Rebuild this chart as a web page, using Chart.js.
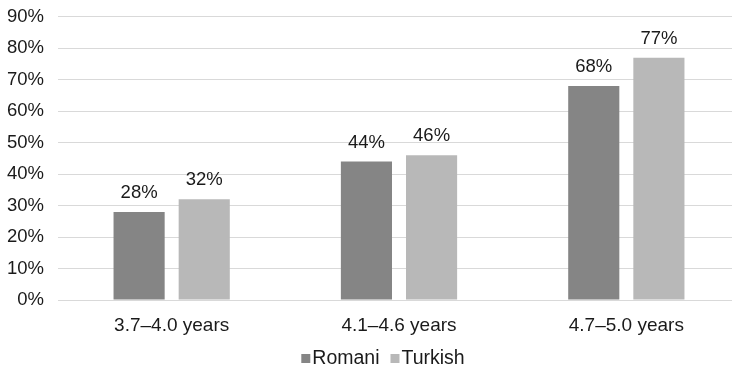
<!DOCTYPE html>
<html>
<head>
<meta charset="utf-8">
<script src="https://cdn.jsdelivr.net/npm/chart.js@4/dist/chart.umd.min.js"></script>
<style>
  html, body { margin: 0; padding: 0; background: #fff; overflow: hidden; }
  #wrap { width: 740px; height: 366px; }
</style>
</head>
<body>
<div id="wrap"><canvas id="c" width="740" height="366"></canvas></div>
<script>
const categories = ['3.7–4.0 years', '4.1–4.6 years', '4.7–5.0 years'];
const romani = [28, 44, 68];
const turkish = [32, 46, 77];
const yTicks = [0, 10, 20, 30, 40, 50, 60, 70, 80, 90];

const FONT = "'Liberation Sans', Arial, sans-serif";
const SIZE = 18.5;
const TEXT = '#1a1a1a';

// Percent labels above each bar
const valueLabels = {
  id: 'valueLabels',
  afterDatasetsDraw(chart) {
    const ctx = chart.ctx;
    ctx.save();
    ctx.font = SIZE + 'px ' + FONT;
    ctx.fillStyle = TEXT;
    ctx.textAlign = 'center';
    ctx.textBaseline = 'alphabetic';
    chart.data.datasets.forEach((ds, i) => {
      chart.getDatasetMeta(i).data.forEach((bar, j) => {
        ctx.fillText(ds.data[j] + '%', bar.x, bar.y - 14);
      });
    });
    ctx.restore();
  }
};

// Compact legend: small square swatch tight against its label
const compactLegend = {
  id: 'compactLegend',
  afterDraw(chart) {
    const ctx = chart.ctx;
    const box = 9, gap = 2, itemGap = 11, centerX = 383, baseY = 364;
    ctx.save();
    ctx.font = '19.5px ' + FONT;
    ctx.textBaseline = 'alphabetic';
    ctx.textAlign = 'left';
    const items = chart.data.datasets.map(ds => ({
      text: ds.label, color: ds.backgroundColor, w: ctx.measureText(ds.label).width
    }));
    const total = items.reduce((s, it) => s + box + gap + it.w, 0) + itemGap * (items.length - 1);
    let x = centerX - total / 2;
    items.forEach(it => {
      ctx.fillStyle = it.color;
      ctx.fillRect(x, baseY - 10, box, box);
      x += box + gap;
      ctx.fillStyle = TEXT;
      ctx.fillText(it.text, x, baseY);
      x += it.w + itemGap;
    });
    ctx.restore();
  }
};

new Chart(document.getElementById('c'), {
  type: 'bar',
  data: {
    labels: categories,
    datasets: [
      { label: 'Romani', data: romani, backgroundColor: '#858585', categoryPercentage: 0.573, barPercentage: 0.785 },
      { label: 'Turkish', data: turkish, backgroundColor: '#b8b8b8', categoryPercentage: 0.573, barPercentage: 0.785 }
    ]
  },
  options: {
    responsive: false,
    animation: false,
    layout: { padding: { top: 0, right: 0, left: 0, bottom: 0 } },
    plugins: {
      tooltip: { enabled: false },
      legend: { display: false }
    },
    scales: {
      x: {
        afterFit(scale) { scale.height = 66; },
        grid: { display: false, drawTicks: false },
        border: { display: false },
        ticks: { font: { family: FONT, size: 19 }, color: TEXT, padding: 14 }
      },
      y: {
        min: 0,
        max: 90,
        afterBuildTicks(scale) { scale.ticks = yTicks.map(v => ({ value: v })); },
        afterFit(scale) { scale.width = 58; },
        grid: { color: '#d9d9d9', lineWidth: 1, drawTicks: false },
        border: { display: false },
        ticks: {
          font: { family: FONT, size: SIZE, lineHeight: 0.3 },
          color: TEXT,
          padding: 14,
          callback: v => v + '%'
        }
      }
    }
  },
  plugins: [valueLabels, compactLegend]
});
</script>
</body>
</html>
